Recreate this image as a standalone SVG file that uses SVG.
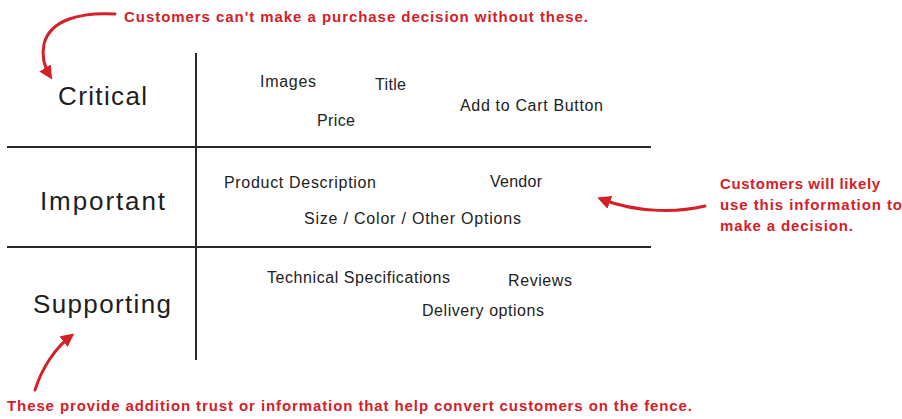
<svg xmlns="http://www.w3.org/2000/svg" width="902" height="419" viewBox="0 0 902 419">
<style>
.lbl{font-family:"Liberation Sans",Arial,sans-serif;fill:#1e1e1e;font-size:26px}
.it{font-family:"Liberation Sans",Arial,sans-serif;fill:#222;font-size:16px}
.note{font-family:"Liberation Sans",Arial,sans-serif;fill:#d42027;font-size:15px;font-weight:bold}
.grid{stroke:#2a2a2a;stroke-width:2;fill:none}
.arr{stroke:#d42027;stroke-width:3;fill:none;stroke-linecap:round}
</style>
<defs>
<marker id="ah" viewBox="0 0 10 10" refX="7" refY="5" markerWidth="4.5" markerHeight="4.5" orient="auto" markerUnits="strokeWidth">
<path d="M0,0 L10,5 L0,10 z" fill="#d42027"/>
</marker>
</defs>
<rect width="902" height="419" fill="#fff"/>
<g id="grid">
<line class="grid" x1="196" y1="53" x2="196" y2="360"/>
<line class="grid" x1="7" y1="147" x2="651" y2="147"/>
<line class="grid" x1="7" y1="247" x2="651" y2="247"/>
</g>
<g id="critical">
<text class="lbl" x="58" y="105" textLength="89">Critical</text>
<text class="it" x="260" y="87" textLength="56">Images</text>
<text class="it" x="375" y="90" textLength="31">Title</text>
<text class="it" x="460" y="111" textLength="143">Add to Cart Button</text>
<text class="it" x="317" y="126" textLength="38">Price</text>
</g>
<g id="important">
<text class="lbl" x="40" y="210" textLength="125">Important</text>
<text class="it" x="224" y="188" textLength="152">Product Description</text>
<text class="it" x="490" y="187" textLength="52">Vendor</text>
<text class="it" x="304" y="224" textLength="217">Size / Color / Other Options</text>
</g>
<g id="supporting">
<text class="lbl" x="33" y="313" textLength="138">Supporting</text>
<text class="it" x="267" y="283" textLength="183">Technical Specifications</text>
<text class="it" x="508" y="286" textLength="64">Reviews</text>
<text class="it" x="422" y="316" textLength="122">Delivery options</text>
</g>
<g id="notes">
<text class="note" x="124" y="22" textLength="464">Customers can't make a purchase decision without these.</text>
<text class="note" x="720" y="189" textLength="160">Customers will likely</text>
<text class="note" x="720" y="210" textLength="182">use this information to</text>
<text class="note" x="720" y="231" textLength="133">make a decision.</text>
<text class="note" x="7" y="411" textLength="685">These provide addition trust or information that help convert customers on the fence.</text>
</g>
<g id="connectors">
<path class="arr" d="M115,14 C80,12 50,20 44,44 C41,58 45,68 50,76" marker-end="url(#ah)"/>
<path class="arr" d="M705,206 C680,212 640,214 601,199" marker-end="url(#ah)"/>
<path class="arr" d="M35,390 C42,368 55,348 71,336" marker-end="url(#ah)"/>
</g>
</svg>
